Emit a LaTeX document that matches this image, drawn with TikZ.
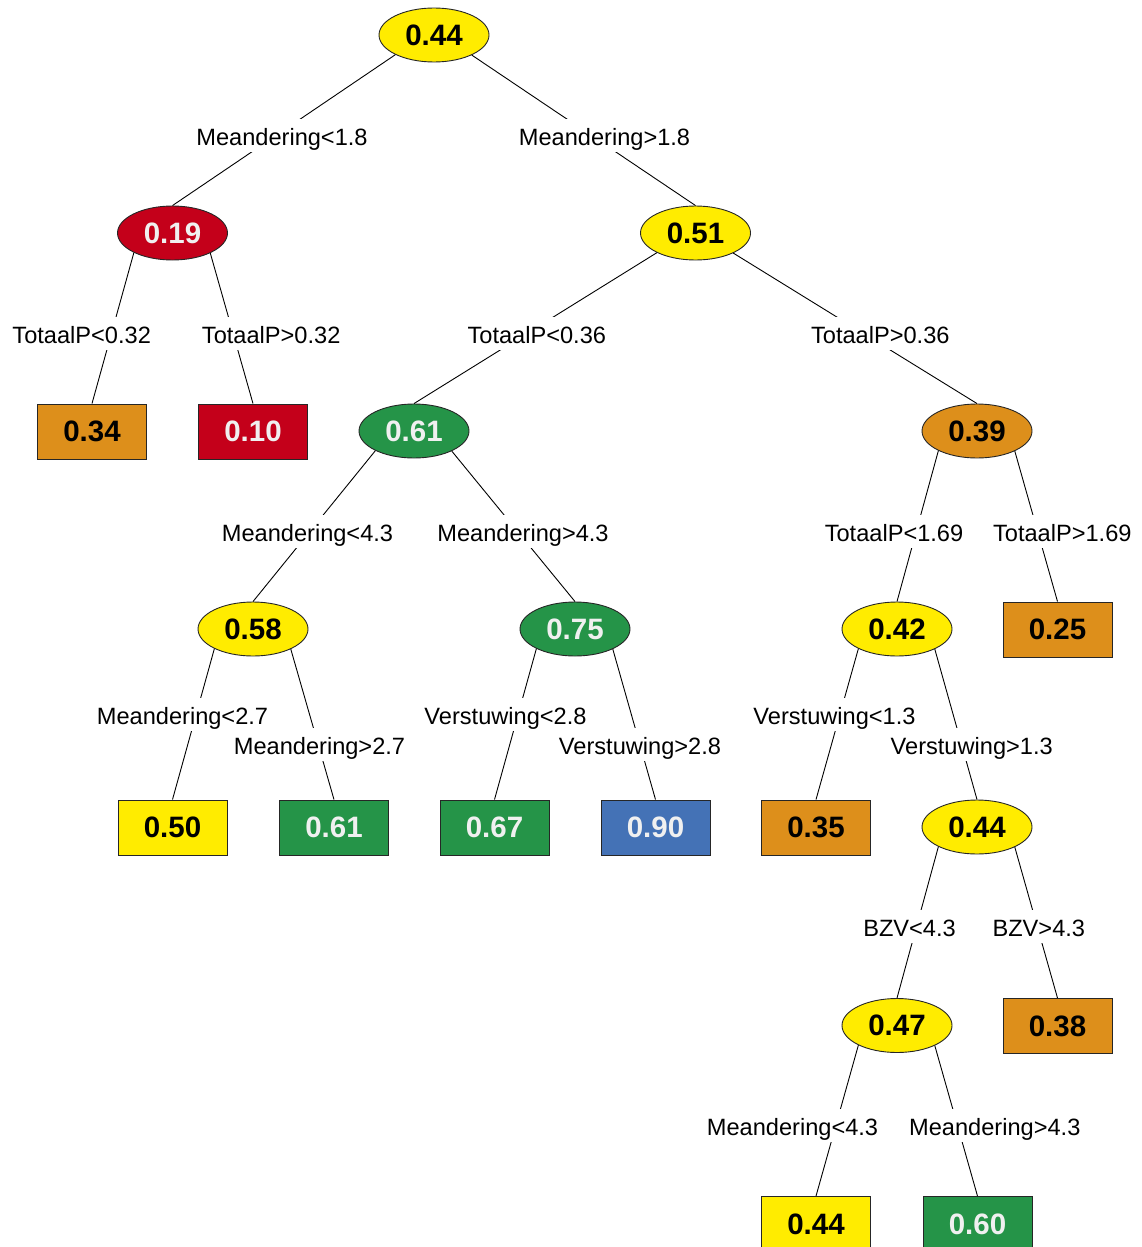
\documentclass[tikz,border=0pt]{standalone}
\usepackage{fontspec}
\setmainfont{Liberation Sans}
\usetikzlibrary{shapes.geometric}
\definecolor{tyellow}{RGB}{255,236,0}
\definecolor{tred}{RGB}{196,0,26}
\definecolor{torange}{RGB}{221,143,27}
\definecolor{tgreen}{RGB}{37,148,72}
\definecolor{tblue}{RGB}{68,114,182}
\definecolor{tpale}{RGB}{240,240,240}

\begin{document}
\begin{tikzpicture}[x=1pt,y=-1pt,
  valfont/.style={font=\fontsize{29.5}{31}\selectfont\bfseries},
  oval/.style={ellipse, draw=black!85, line width=0.9pt, minimum width=110pt,
               minimum height=54pt, inner sep=0pt, valfont},
  leaf/.style={rectangle, draw=black!85, line width=0.9pt, minimum width=109pt,
               minimum height=55pt, inner sep=0pt, valfont},
  dk/.style={text=black},
  lt/.style={text=tpale},
  branch/.style={draw=black, line width=0.9pt},
  cond/.style={anchor=base, fill=white, font=\fontsize{23.6}{26}\selectfont,
               text height=26.5pt, text depth=6.5pt, inner ysep=0pt, inner xsep=2pt}
]
\path[use as bounding box] (0,0) rectangle (1141,1247);
\clip (0,0) rectangle (1141,1247);

% tree nodes
\node[oval, fill=tyellow, dk] (root) at (434,35) {0.44};
\node[oval, fill=tred, lt]    (n19)  at (172.5,233) {0.19};
\node[oval, fill=tyellow, dk] (n51)  at (695.5,233) {0.51};
\node[leaf, fill=torange, dk] (l34)  at (92,431.5) {0.34};
\node[leaf, fill=tred, lt]    (l10)  at (253,431.5) {0.10};
\node[oval, fill=tgreen, lt]  (n61)  at (414,431) {0.61};
\node[oval, fill=torange, dk] (n39)  at (977,431) {0.39};
\node[oval, fill=tyellow, dk] (n58)  at (253,629) {0.58};
\node[oval, fill=tgreen, lt]  (n75)  at (575,629) {0.75};
\node[oval, fill=tyellow, dk] (n42)  at (897,629) {0.42};
\node[leaf, fill=torange, dk] (l25)  at (1057.5,629.5) {0.25};
\node[leaf, fill=tyellow, dk] (l50)  at (172.5,827.5) {0.50};
\node[leaf, fill=tgreen, lt]  (l61)  at (334,827.5) {0.61};
\node[leaf, fill=tgreen, lt]  (l67)  at (494.5,827.5) {0.67};
\node[leaf, fill=tblue, lt]   (l90)  at (655.5,827.5) {0.90};
\node[leaf, fill=torange, dk] (l35)  at (816,827.5) {0.35};
\node[oval, fill=tyellow, dk] (n44)  at (977,827) {0.44};
\node[oval, fill=tyellow, dk] (n47)  at (897,1025.5) {0.47};
\node[leaf, fill=torange, dk] (l38)  at (1057.5,1026) {0.38};
\node[leaf, fill=tyellow, dk] (l44)  at (816,1224) {0.44};
\node[leaf, fill=tgreen, lt]  (l60)  at (977.5,1224) {0.60};

% branches: left child from the lower-left of the parent, right child from the lower-right
\draw[branch] (root.207.5) -- (n19.north);
\draw[branch] (root.332.5) -- (n51.north);
\draw[branch] (n19.207.5)  -- (l34.north);
\draw[branch] (n19.332.5)  -- (l10.north);
\draw[branch] (n51.207.5)  -- (n61.north);
\draw[branch] (n51.332.5)  -- (n39.north);
\draw[branch] (n61.207.5)  -- (n58.north);
\draw[branch] (n61.332.5)  -- (n75.north);
\draw[branch] (n39.207.5)  -- (n42.north);
\draw[branch] (n39.332.5)  -- (l25.north);
\draw[branch] (n58.207.5)  -- (l50.north);
\draw[branch] (n58.332.5)  -- (l61.north);
\draw[branch] (n75.207.5)  -- (l67.north);
\draw[branch] (n75.332.5)  -- (l90.north);
\draw[branch] (n42.207.5)  -- (l35.north);
\draw[branch] (n42.332.5)  -- (n44.north);
\draw[branch] (n44.207.5)  -- (n47.north);
\draw[branch] (n44.332.5)  -- (l38.north);
\draw[branch] (n47.207.5)  -- (l44.north);
\draw[branch] (n47.332.5)  -- (l60.north);

% split conditions
\node[cond] (c1)  at (282,145)      {Meandering<1.8};
\node[cond] (c2)  at (604.5,145)    {Meandering>1.8};
\node[cond] (c3)  at (81.7,343.3)   {TotaalP<0.32};
\node[cond] (c4)  at (271.2,343.3)  {TotaalP>0.32};
\node[cond] (c5)  at (536.8,343.3)  {TotaalP<0.36};
\node[cond] (c6)  at (880.3,343.3)  {TotaalP>0.36};
\node[cond] (c7)  at (307.5,541.7)  {Meandering<4.3};
\node[cond] (c8)  at (523,541.7)    {Meandering>4.3};
\node[cond] (c9)  at (894,541.7)    {TotaalP<1.69};
\node[cond] (c10) at (1062.3,541.7) {TotaalP>1.69};
\node[cond] (c11) at (182.5,724.3)  {Meandering<2.7};
\node[cond] (c12) at (319.5,754.3)  {Meandering>2.7};
\node[cond] (c13) at (505.5,724.3)  {Verstuwing<2.8};
\node[cond] (c14) at (640,754.3)    {Verstuwing>2.8};
\node[cond] (c15) at (834.5,724.3)  {Verstuwing<1.3};
\node[cond] (c16) at (971.7,754.3)  {Verstuwing>1.3};
\node[cond] (c17) at (909.5,936.7)  {BZV<4.3};
\node[cond] (c18) at (1038.8,936.7) {BZV>4.3};
\node[cond] (c19) at (792.5,1135)   {Meandering<4.3};
\node[cond] (c20) at (994.8,1135)   {Meandering>4.3};
\end{tikzpicture}
\end{document}
